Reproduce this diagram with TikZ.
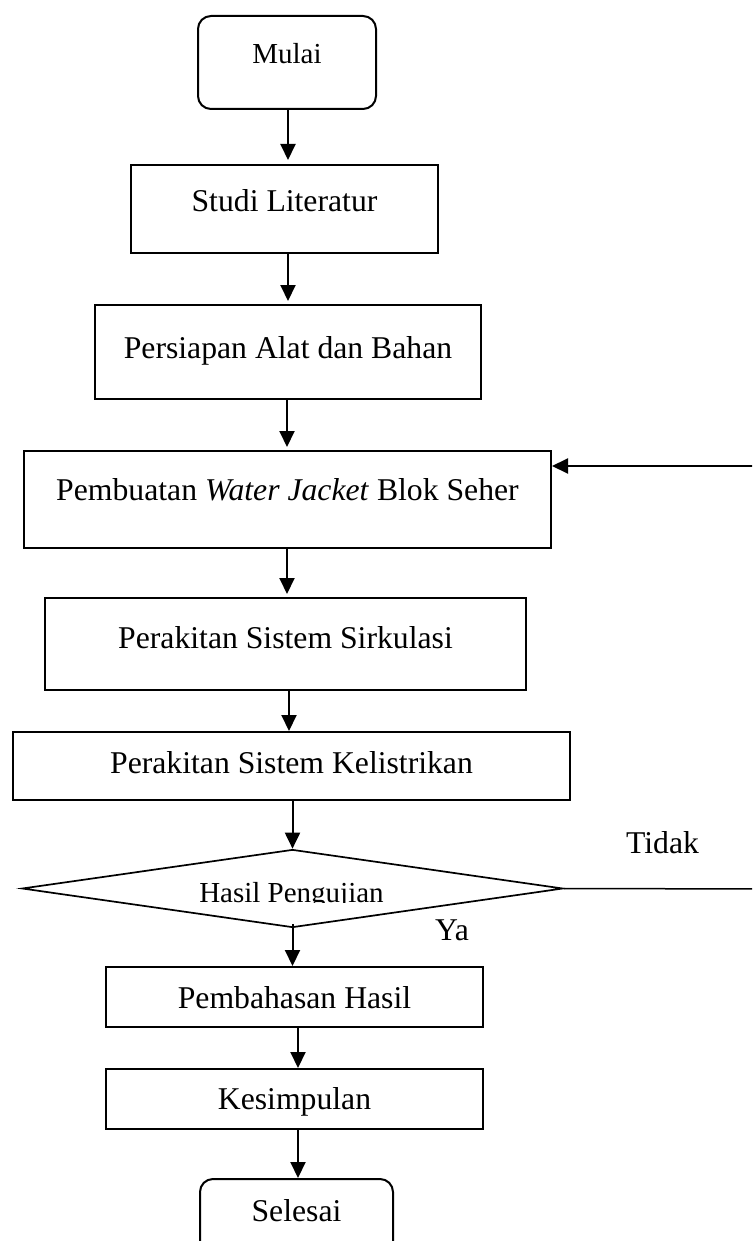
\documentclass[tikz,border=0pt]{standalone}
\usepackage{fontspec}
\setmainfont{Liberation Serif}
\usetikzlibrary{arrows.meta,shapes.geometric,calc}
\newcommand\FigMain{\fontsize{31.7pt}{38pt}\selectfont}
\newcommand\FigSmall{\fontsize{29pt}{35pt}\selectfont}
\begin{document}
\begin{tikzpicture}[x=1pt,y=-1pt,
  box/.style={draw, line width=2pt, inner sep=0pt, anchor=north west, font=\FigMain},
  endbox/.style={box, rounded corners=13pt},
  arr/.style={line width=2pt, -{Triangle[length=16pt,width=15pt]}},
  lbl/.style={anchor=base, inner sep=0pt, font=\FigMain}]
\clip (0,0) rectangle (752,1241);
\fill[white] (0,0) rectangle (752,1241);

% nodes
\node[endbox, minimum width=178pt, text height=48pt, text depth=45pt, font=\FigSmall] (mulai) at (197,15) {Mulai};
\node[box, minimum width=307pt, text height=47pt, text depth=41pt] (studi) at (130,164) {Studi Literatur};
\node[box, minimum width=386pt, text height=53pt, text depth=41pt] (siap) at (94,304) {Persiapan Alat dan Bahan\hspace{13pt}};
\node[box, minimum width=527pt, text height=49pt, text depth=48pt] (wj) at (23,450) {Pembuatan \textit{Water Jacket} Blok Seher};
\node[box, minimum width=481pt, text height=50pt, text depth=42pt] (sirk) at (44,597) {Perakitan Sistem Sirkulasi};
\node[box, minimum width=557pt, text height=41pt, text depth=27pt] (kel) at (12,731) {Perakitan Sistem Kelistrikan};
\node[draw, diamond, line width=1.7pt, inner sep=0pt, minimum width=541pt, minimum height=78pt] (dec) at (292.5,888.5) {};
\begin{scope}
  \clip (0,0) rectangle (752,902);
  \node[lbl, font=\FigSmall] (hasil) at (291.5,902) {Hasil Pengujian};
\end{scope}
\node[box, minimum width=377pt, text height=41pt, text depth=19pt] (pemb) at (105,966) {Pembahasan Hasil};
\node[box, minimum width=377pt, text height=40pt, text depth=20pt] (kes) at (105,1068) {Kesimpulan};
\node[endbox, minimum width=193pt, text height=42pt, text depth=40pt] (sel) at (199,1178) {Selesai};

\node[lbl] (tidak) at (662.5,853) {Tidak};
\node[lbl] (ya) at (452,940) {Ya};

% connectors
\draw[arr, shorten >=4pt] (mulai.south -| 288,0) -- (studi.north -| 288,0);
\draw[arr, shorten >=3pt] (studi.south -| 288,0) -- (siap.north -| 288,0);
\draw[arr, shorten >=3pt] (siap.south -| 287,0) -- (wj.north -| 287,0);
\draw[arr, shorten >=3pt] (wj.south -| 287,0) -- (sirk.north -| 287,0);
\draw[arr] (sirk.south -| 289,0) -- (kel.north -| 289,0);
\draw[arr] (kel.south -| dec.north) -- (dec.north);
\draw[arr] ($(dec.south)+(0,-4)$) -- (pemb.north -| dec.south);
\draw[arr] (pemb.south -| 298,0) -- (kes.north -| 298,0);
\draw[arr] (kes.south -| 298,0) -- (sel.north -| 298,0);

\coordinate (loopr) at (775,889);
\coordinate (wjin) at ($(wj.north east)+(0,16)$);
\draw[line width=1.5pt] (dec.east) -- (loopr);
\draw[arr] (loopr) |- (wjin);
\end{tikzpicture}
\end{document}
